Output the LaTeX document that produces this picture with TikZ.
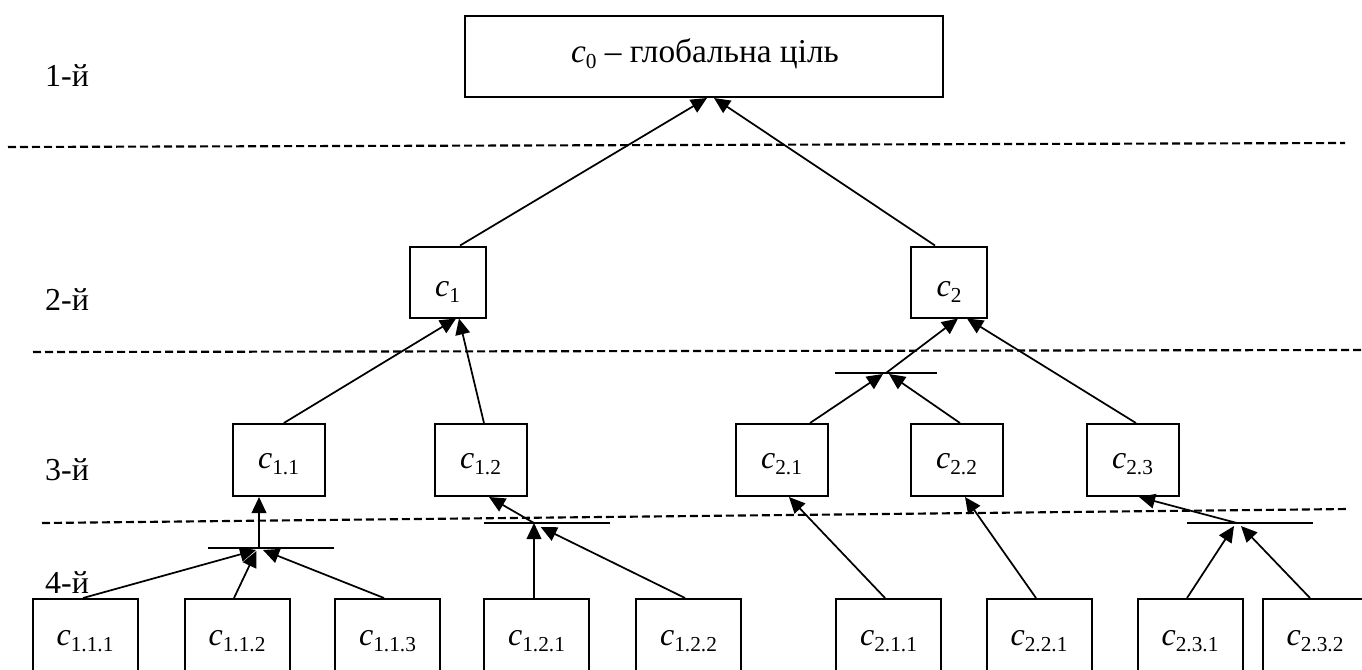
\documentclass[tikz,border=0pt]{standalone}
\usepackage{fontspec}
\setmainfont{Liberation Serif}
\usetikzlibrary{arrows.meta}
% goal symbol c with a lowered index
\newcommand\goal[1]{\textit{c}\raisebox{-4.5pt}{\fontsize{16}{16}\selectfont #1}}
\begin{document}
\begin{tikzpicture}[x=0.75pt,y=-0.75pt,
  font=\fontsize{24}{28}\selectfont,
  box/.style={draw, line width=1.5pt, inner sep=0pt},
  topbox/.style={box, minimum width=358.5pt, minimum height=60.75pt},
  lvltwo/.style={box, minimum width=57pt, minimum height=53.25pt},
  lvlthree/.style={box, minimum width=69pt, minimum height=54pt},
  lvlfour/.style={box, minimum width=78.75pt, minimum height=61.5pt},
  txt/.style={anchor=base, inner sep=0pt},
  arr/.style={line width=1.3pt, -{Triangle[length=12pt,width=11pt]}},
  andbar/.style={line width=1.5pt},
  sep/.style={line width=1.6pt, dash pattern=on 6pt off 3pt}]
\useasboundingbox (0,0) rectangle (1362,669);
\clip (0,0) rectangle (1362,669);

% level separators
\draw[sep] (8,147) -- (1345,143);
\draw[sep] (33,352) -- (1362,350);
\draw[sep] (42,523) -- (1348,509);

% level captions
\node[txt] (l1) at (67,86) {1-й};
\node[txt] (l2) at (67,310) {2-й};
\node[txt] (l3) at (67,480) {3-й};
\node[txt] (l4) at (67,593) {4-й};

% goal boxes
\node[topbox] (c0) at (704,56.5) {};
\node[lvltwo] (c1) at (447.5,282) {};
\node[lvltwo] (c2) at (949,282) {};
\node[lvlthree] (c11) at (278.5,460) {};
\node[lvlthree] (c12) at (480.5,460) {};
\node[lvlthree] (c21) at (781.5,460) {};
\node[lvlthree] (c22) at (956.5,460) {};
\node[lvlthree] (c23) at (1132.5,460) {};
\node[lvlfour] (c111) at (85,640) {};
\node[lvlfour] (c112) at (237,640) {};
\node[lvlfour] (c113) at (387.5,640) {};
\node[lvlfour] (c121) at (536.5,640) {};
\node[lvlfour] (c122) at (688.5,640) {};
\node[lvlfour] (c211) at (888.5,640) {};
\node[lvlfour] (c221) at (1039,640) {};
\node[lvlfour] (c231) at (1190,640) {};
\node[lvlfour] (c232) at (1315,640) {};

% box texts
\node[txt, font=\fontsize{25}{30}\selectfont] (t0) at (705,62) {\goal{0} – глобальна ціль};
\node[txt] (t1) at (447.5,296) {\goal{1}};
\node[txt] (t2) at (949,296) {\goal{2}};
\node[txt] (t11) at (278.5,468) {\goal{1.1}};
\node[txt] (t12) at (480.5,468) {\goal{1.2}};
\node[txt] (t21) at (781.5,468) {\goal{2.1}};
\node[txt] (t22) at (956.5,468) {\goal{2.2}};
\node[txt] (t23) at (1132.5,468) {\goal{2.3}};
\node[txt] (t111) at (85,645) {\goal{1.1.1}};
\node[txt] (t112) at (237,645) {\goal{1.1.2}};
\node[txt] (t113) at (387.5,645) {\goal{1.1.3}};
\node[txt] (t121) at (536.5,645) {\goal{1.2.1}};
\node[txt] (t122) at (688.5,645) {\goal{1.2.2}};
\node[txt] (t211) at (888.5,645) {\goal{2.1.1}};
\node[txt] (t221) at (1039,645) {\goal{2.2.1}};
\node[txt] (t231) at (1190,645) {\goal{2.3.1}};
\node[txt] (t232) at (1315,645) {\goal{2.3.2}};

% conjunction points and their bars
\coordinate (j11) at (259,548);
\coordinate (j11l) at (208,548);
\coordinate (j11r) at (334,548);
\coordinate (j12) at (534,523);
\coordinate (j12l) at (484,523);
\coordinate (j12r) at (610,523);
\coordinate (j2) at (886,373);
\coordinate (j2l) at (835,373);
\coordinate (j2r) at (937,373);
\coordinate (j23) at (1237,523);
\coordinate (j23l) at (1187,523);
\coordinate (j23r) at (1313,523);
\draw[andbar] (j11l) -- (j11r);
\draw[andbar] (j12l) -- (j12r);
\draw[andbar] (j2l) -- (j2r);
\draw[andbar] (j23l) -- (j23r);

% level 2 -> level 1
\draw[arr] ([xshift=9.4pt]c1.north) -- ([xshift=2.25pt]c0.south);
\draw[arr] ([xshift=-10.5pt]c2.north) -- ([xshift=7.5pt]c0.south);

% level 3 -> level 2
\draw[arr] ([xshift=4pt]c11.north) -- ([xshift=6.4pt]c1.south);
\draw[arr] ([xshift=2.6pt]c12.north) -- ([xshift=8.6pt]c1.south);
\draw[arr] ([xshift=21.4pt]c21.north) -- ([xshift=-2.25pt,yshift=-0.75pt]j2);
\draw[arr] ([xshift=2.6pt]c22.north) -- ([xshift=2.25pt,yshift=-0.75pt]j2);
\draw[arr] (j2) -- ([xshift=6.75pt]c2.south);
\draw[arr] ([xshift=2.6pt]c23.north) -- ([xshift=13.5pt]c2.south);

% level 4 -> level 3
\draw[arr] ([xshift=-1.5pt]c111.north) -- ([xshift=-2.25pt,yshift=-1.5pt]j11);
\draw[arr] ([xshift=-2.25pt]c112.north) -- ([xshift=-2pt,yshift=-2.25pt]j11);
\draw[arr] ([xshift=-2.6pt]c113.north) -- ([xshift=3pt,yshift=-1.5pt]j11);
\draw[arr] (j11) -- ([xshift=-14.6pt]c11.south);
\draw[arr] ([xshift=-1.9pt]c121.north) -- (j12);
\draw[arr] ([xshift=-2.6pt]c122.north) -- ([xshift=5pt,yshift=-3pt]j12);
\draw[arr] (j12) -- ([xshift=6.4pt]c12.south);
\draw[arr] ([xshift=-2.6pt]c211.north) -- ([xshift=5.6pt]c21.south);
\draw[arr] ([xshift=-2.25pt]c221.north) -- ([xshift=6.4pt]c22.south);
\draw[arr] ([xshift=-2.25pt]c231.north) -- ([xshift=-2.25pt,yshift=-2.25pt]j23);
\draw[arr] ([xshift=-3.75pt]c232.north) -- ([xshift=3pt,yshift=-2.25pt]j23);
\draw[arr] (j23) -- ([xshift=4.9pt]c23.south);
\end{tikzpicture}
\end{document}
